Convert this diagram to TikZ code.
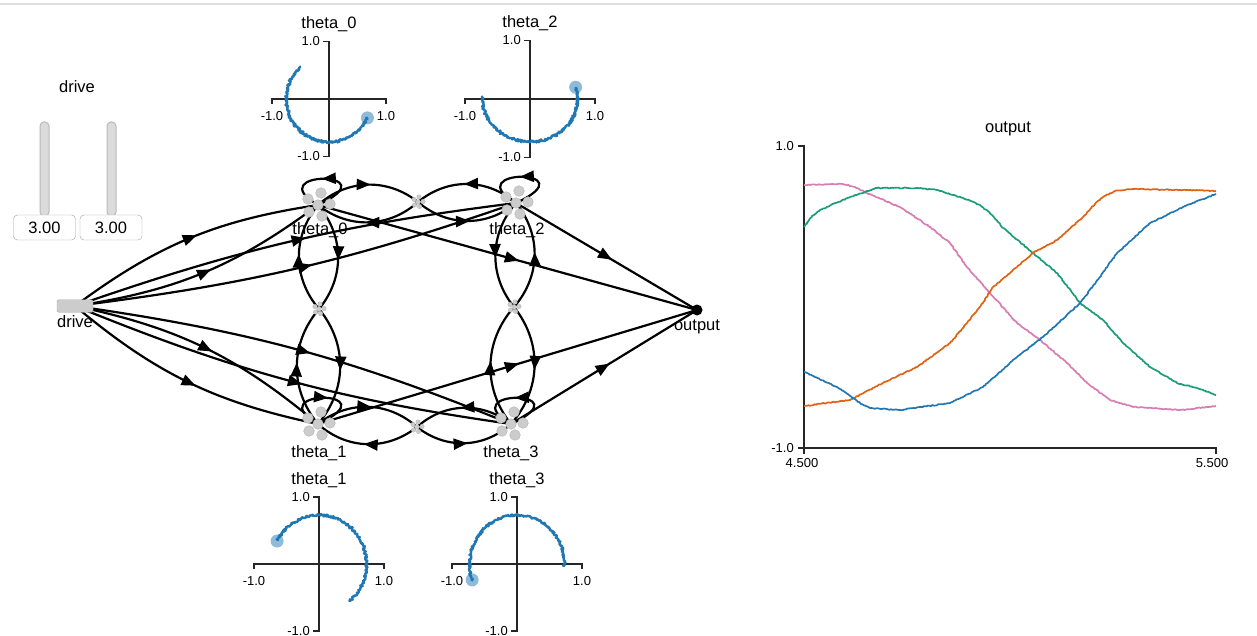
\documentclass[tikz,border=0pt]{standalone}
\usepackage{fontspec}
\setmainfont{Liberation Sans}
\usetikzlibrary{arrows.meta,decorations.markings,decorations.pathmorphing}
\definecolor{trblue}{RGB}{31,119,180}
\definecolor{trorange}{RGB}{224,99,20}
\definecolor{trgreen}{RGB}{27,158,119}
\definecolor{trpink}{RGB}{214,125,178}
\pgfmathsetseed{11}
% axes of one phase plot: id, cx, cy, sx, sy, title
\newcommand{\phaseaxes}[6]{%
  \draw[axis] ({#2-#4},{#3+5}) -- ({#2-#4},#3) -- ({#2+#4},#3) -- ({#2+#4},{#3+5});
  \draw[axis] ({#2-6},{#3-#5}) -- (#2,{#3-#5}) -- (#2,{#3+#5}) -- ({#2-6},{#3+#5});
  \node[tick, anchor=east] (#1-ymax) at ({#2-9},{#3-#5}) {1.0};
  \node[tick, anchor=east] (#1-ymin) at ({#2-9},{#3+#5}) {-1.0};
  \node[tick, anchor=north] (#1-xmin) at ({#2-#4},{#3+12}) {-1.0};
  \node[tick, anchor=north] (#1-xmax) at ({#2+#4},{#3+12}) {1.0};
  \node[lbl] (#1-title) at (#2,{#3-#5-13}) {#6};
}
\begin{document}
\begin{tikzpicture}[x=1pt, y=-1pt,
  wire/.style={line width=2.2pt},
  midarrow/.style={postaction={decorate, decoration={markings,
      mark=at position 0.53 with {\arrow{Triangle[length=14pt,width=11pt]}}}}},
  lbl/.style={font=\fontsize{16.5}{18}\selectfont, inner sep=0pt, anchor=base},
  tick/.style={font=\fontsize{13}{15}\selectfont, inner sep=0pt},
  axis/.style={line width=1.3pt, black!85},
  trace/.style={line width=2.4pt, trblue, line join=round},
  sig/.style={line width=1.7pt, line join=round, decorate,
      decoration={random steps, segment length=1.5pt, amplitude=0.5pt}},
  cur/.style={fill=trblue, fill opacity=0.5},
  valbox/.style={draw=gray!75, rounded corners=4pt, minimum width=62pt, minimum height=25pt,
      inner sep=0pt, font=\fontsize{16.5}{18}\selectfont},
  bar/.style={fill=gray!28, draw=gray!55, line width=1pt, rounded corners=4pt},
  ensicon/.pic={
    \foreach \dx/\dy in {-10/-6, 3/-12, 12/-1, 0/0, -9/7, 4/11}
      {\filldraw[fill=gray!40, draw=gray!55, line width=0.5pt] (\dx,\dy) circle (5.3pt);}
  },
  passicon/.pic={
    \foreach \dx/\dy in {-4/-2.5, 1/-5, 5/-0.5, 0/0, -3.5/3, 1.5/4.5}
      {\filldraw[fill=gray!40, draw=gray!55, line width=0.4pt] (\dx,\dy) circle (2.2pt);}
  }
]
\useasboundingbox (0,0) rectangle (1257,636);
\draw[gray!25, line width=2pt] (0,4) -- (1257,4);

% slider
\node[lbl] (slidertitle) at (77,93) {drive};
\draw[bar] (40,122) rectangle (49,216);
\draw[bar] (107,122) rectangle (116,216);
\node[valbox, fill=white] (val0) at (44.5,227.5) {3.00};
\node[valbox, fill=white] (val1) at (111,227.5) {3.00};

% network
\coordinate (drive) at (75,306);
\coordinate (t0) at (318,205);
\coordinate (t2) at (516,203);
\coordinate (t1) at (318,424);
\coordinate (t3) at (511,424);
\coordinate (p02) at (418,202);
\coordinate (p13) at (417,427);
\coordinate (p01) at (319,309);
\coordinate (p23) at (514,307);
\coordinate (out) at (697,310);

\draw[wire,midarrow] (drive) to[bend left=14] (t0);
\draw[wire,midarrow] (drive) to[bend right=14] (t0);
\draw[wire,midarrow] (drive) to[bend left=6] (t2);
\draw[wire,midarrow] (drive) to[bend right=6] (t2);
\draw[wire,midarrow] (drive) to[bend left=14] (t1);
\draw[wire,midarrow] (drive) to[bend right=14] (t1);
\draw[wire,midarrow] (drive) to[bend left=7] (t3);
\draw[wire,midarrow] (drive) to[bend right=7] (t3);

\draw[wire,midarrow] (t0) to[bend left=40] (p02);
\draw[wire,midarrow] (p02) to[bend left=40] (t0);
\draw[wire,midarrow] (t2) to[bend right=40] (p02);
\draw[wire,midarrow] (p02) to[bend right=40] (t2);
\draw[wire,midarrow] (t1) to[bend left=40] (p13);
\draw[wire,midarrow] (p13) to[bend left=40] (t1);
\draw[wire,midarrow] (t3) to[bend right=40] (p13);
\draw[wire,midarrow] (p13) to[bend right=40] (t3);

\draw[wire,midarrow] (p01) to[bend left=40] (t0);
\draw[wire,midarrow] (t0) to[bend left=40] (p01);
\draw[wire,midarrow] (t1) to[bend left=40] (p01);
\draw[wire,midarrow] (p01) to[bend left=40] (t1);
\draw[wire,midarrow] (t2) to[bend right=40] (p23);
\draw[wire,midarrow] (p23) to[bend right=40] (t2);
\draw[wire,midarrow] (t3) to[bend left=40] (p23);
\draw[wire,midarrow] (p23) to[bend left=40] (t3);

\draw[wire,midarrow] (t0) .. controls +(75,-35) and +(-60,-35) .. (t0);
\draw[wire,midarrow] (t2) .. controls +(75,-35) and +(-60,-35) .. (t2);
\draw[wire,midarrow] (t1) .. controls +(-60,-35) and +(75,-35) .. (t1);
\draw[wire,midarrow] (t3) .. controls +(75,-35) and +(-60,-35) .. (t3);

\draw[wire,midarrow] (t0) -- (out);
\draw[wire,midarrow] (t2) -- (out);
\draw[wire,midarrow] (t1) -- (out);
\draw[wire,midarrow] (t3) -- (out);

\node[draw=gray!70, fill=gray!40, rounded corners=1.5pt, minimum width=36pt,
  minimum height=12.5pt, inner sep=0pt] (drivebox) at (drive) {};
\node[lbl] (drivelbl) at (75,327) {drive};
\pic at (t0) {ensicon};
\pic at (t2) {ensicon};
\pic at (t1) {ensicon};
\pic at (t3) {ensicon};
\pic at (p02) {passicon};
\pic at (p13) {passicon};
\pic at (p01) {passicon};
\pic at (p23) {passicon};
\node[lbl] (t0lbl) at (320,235) {theta\_0};
\node[lbl] (t2lbl) at (517,235) {theta\_2};
\node[lbl] (t1lbl) at (319,457) {theta\_1};
\node[lbl] (t3lbl) at (511,457) {theta\_3};
\fill (out) circle (5.5pt);
\node[lbl] (outlbl) at (697,330) {output};

% phase plots
\phaseaxes{pa}{329}{99}{57}{57.5}{theta\_0}
\draw[trace] plot[domain=132:334, samples=220]
  ({329+0.75*57*cos(\x)+1.2*rand}, {99-0.75*57.5*sin(\x)+1.2*rand});
\fill[cur] ({329+0.75*57*cos(334)}, {99-0.75*57.5*sin(334)}) circle (6.5pt);

\phaseaxes{pb}{530}{99}{65}{58.5}{theta\_2}
\draw[trace] plot[domain=177:376, samples=220]
  ({530+0.73*65*cos(\x)+1.2*rand}, {99-0.73*58.5*sin(\x)+1.2*rand});
\fill[cur] ({530+0.73*65*cos(376)}, {99-0.73*58.5*sin(376)}) circle (6.5pt);

\phaseaxes{pc}{319}{564}{65}{67}{theta\_1}
\draw[trace] plot[domain=-50:152, samples=220]
  ({319+0.73*65*cos(\x)+1.2*rand}, {564-0.73*67*sin(\x)+1.2*rand});
\fill[cur] ({319+0.73*65*cos(152)}, {564-0.73*67*sin(152)}) circle (6.5pt);

\phaseaxes{pd}{517}{564}{65}{67}{theta\_3}
\draw[trace] plot[domain=-3:199, samples=220]
  ({517+0.73*65*cos(\x)+1.2*rand}, {564-0.73*67*sin(\x)+1.2*rand});
\fill[cur] ({517+0.73*65*cos(199)}, {564-0.73*67*sin(199)}) circle (6.5pt);

% output plot
\node[lbl] (plottitle) at (1008,133) {output};
\draw[axis] (798,146) -- (804,146) -- (804,448) -- (1216,448) -- (1216,454);
\draw[axis] (798,448) -- (804,448) -- (804,454);
\node[tick, anchor=east] (ymax) at (794,146) {1.0};
\node[tick, anchor=east] (ymin) at (794,448) {-1.0};
\node[tick, anchor=north] (xmin) at (802,458) {4.500};
\node[tick, anchor=north] (xmax) at (1212,458) {5.500};

\draw[sig, trpink] plot coordinates {(804,185) (843,184) (855,187) (867,193) (900,207)
  (930,227) (950,243) (967,267) (990,293) (1017,323) (1040,340) (1067,363) (1087,383)
  (1110,400) (1133,407) (1180,410) (1216,406)};
\draw[sig, trgreen] plot coordinates {(804,227) (812,216) (820,210) (850,197) (877,188)
  (917,188) (937,190) (963,198) (980,205) (992,215) (1003,228) (1033,253) (1057,273)
  (1080,303) (1103,320) (1123,343) (1150,367) (1177,383) (1197,388) (1216,395)};
\draw[sig, trorange] plot coordinates {(804,406) (850,400) (883,383) (917,367)
  (950,343) (967,323) (983,303) (993,287) (1017,267) (1033,253) (1057,240) (1083,217)
  (1095,204) (1103,197) (1115,191) (1133,189) (1183,190) (1216,191)};
\draw[sig, trblue] plot coordinates {(804,372) (837,387) (860,403) (870,408) (900,410)
  (950,403) (983,387) (1017,357) (1043,337) (1080,303) (1100,277) (1117,253) (1150,223)
  (1183,207) (1216,194)};
\end{tikzpicture}
\end{document}
